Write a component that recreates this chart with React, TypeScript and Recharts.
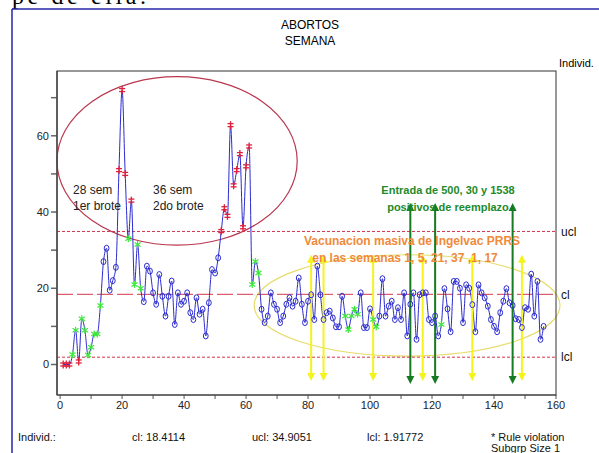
import React from 'react';
import {
  ComposedChart, Line, XAxis, YAxis, ReferenceLine, ReferenceArea,
} from 'recharts';

// --- Abortos por semana (semana 1 en adelante) ---
const abortos = [
  0, 0, 0, 2.6, 9, 0.8, 12, 9, 2.5, 4.5, 8, 8, 15.5, 27, 30.5, 19.5, 22, 25.5, 51, 72,
  50, 33, 43, 21, 31.5, 20, 16.5, 25.8, 24.5, 18.8, 15.8, 23.6, 17.9, 12.7, 17.9, 21.9, 10.5, 18.8, 15.8, 16.6,
  18.8, 13.6, 11.8, 17.5, 13.2, 14.5, 7.5, 16.2, 24.9, 24, 28, 35, 41, 39, 62.8, 47, 51, 55.2, 36, 52,
  57.2, 21, 27, 24, 14.5, 11, 12.7, 18.8, 15.8, 14.5, 11, 12.7, 15.8, 17.5, 15.3, 16.6, 22.7, 15.8, 11, 16.6,
  18.3, 11.8, 25.8, 18.3, 11.8, 13.6, 14, 12.2, 9.9, 9.9, 17.9, 12.7, 9.2, 12.7, 14.5, 13.2, 18.8, 9.7, 9.7, 14.6,
  11.8, 9.9, 12.7, 22.5, 12.7, 15.3, 16.6, 11.8, 14.9, 11.8, 18.8, 7.5, 15.8, 18.8, 6.6, 18.3, 18.8, 18.8, 11.8, 11,
  12.7, 7.5, 10.5, 19.9, 14.6, 8.6, 21.8, 21.8, 20, 11, 20.9, 20, 15.7, 8.6, 20.9, 18.8, 17.5, 15.3, 11.8, 10,
  8.6, 13.6, 16.6, 19.9, 16.2, 15.5, 12, 11.8, 9.7, 14.9, 14.5, 23.7, 12.7, 21.8, 6.6, 10,
];

// r = fuera de limites, g = violacion de regla, c = normal (10 semanas por grupo)
const estado = [
  'rrrggrgggg', 'gggcccccrr', 'rgrgggcccc', 'cccccccccc', 'cccccccccc',
  'crrrrrrrrr', 'rgggcccccc', 'cccccccccc', 'cccccccccc', 'cgggggcccc',
  'ggcccccccc', 'cccccccccc', 'ccgccccccc', 'cccccccccc', 'cccccccccc', 'cccccc',
].join('').split('');

const limites = { ucl: 34.9051, cl: 18.4114, lcl: 1.91772 };

const xTicks = [0, 10, 20, 30, 40, 50, 60, 70, 80, 90, 100, 110, 120, 130, 140, 150, 160];
const yTicks = [0, 10, 20, 30, 40, 50, 60, 70];

// flechas de eventos
const vacunacion = [81, 85, 101, 117, 133, 149];
const entradas = [113, 121, 146];

const data = abortos.map((v, i) => ({ semana: i + 1, valor: v, tipo: estado[i] || 'c' }));

const AZUL = '#2a2ad0';
const ROJO = '#e0203a';
const VERDE = '#3ee83e';

const Punto = (p: any) => {
  const { cx, cy, payload, index } = p;
  if (cx == null || cy == null) return <g key={index} />;
  if (payload.tipo === 'r') {
    return (
      <g key={index} stroke={ROJO} strokeWidth={1.3}>
        <line x1={cx} y1={cy - 4} x2={cx} y2={cy + 4} />
        <line x1={cx - 3} y1={cy - 1.5} x2={cx + 3} y2={cy - 1.5} />
        <line x1={cx - 3} y1={cy + 1.5} x2={cx + 3} y2={cy + 1.5} />
      </g>
    );
  }
  if (payload.tipo === 'g') {
    return (
      <g key={index} stroke={VERDE} strokeWidth={1.2}>
        <line x1={cx} y1={cy - 3.5} x2={cx} y2={cy + 3.5} />
        <line x1={cx - 3} y1={cy - 2} x2={cx + 3} y2={cy + 2} />
        <line x1={cx - 3} y1={cy + 2} x2={cx + 3} y2={cy - 2} />
      </g>
    );
  }
  return <ellipse key={index} cx={cx} cy={cy} rx={2.4} ry={3} fill="none" stroke={AZUL} strokeWidth={1} />;
};

const flecha = (color: string) => (p: any) => {
  const { x1, y1, x2, y2 } = p;
  const top = Math.min(y1, y2);
  const bot = Math.max(y1, y2);
  return (
    <g>
      <line x1={x1} y1={top + 6} x2={x2} y2={bot - 6} stroke={color} strokeWidth={2} />
      <polygon points={`${x1 - 4},${top + 8} ${x1 + 4},${top + 8} ${x1},${top}`} fill={color} />
      <polygon points={`${x1 - 4},${bot - 8} ${x1 + 4},${bot - 8} ${x1},${bot}`} fill={color} />
    </g>
  );
};

const elipse = (color: string) => (p: any) => (
  <ellipse
    cx={p.x + p.width / 2}
    cy={p.y + p.height / 2}
    rx={Math.abs(p.width) / 2}
    ry={Math.abs(p.height) / 2}
    fill="none"
    stroke={color}
    strokeWidth={1.2}
  />
);

const fuente = '"Liberation Sans", Arial, sans-serif';

export default function App() {
  return (
    <div style={{ position: 'absolute', left: 0, top: 0, width: 599, height: 453, background: '#fff', overflow: 'hidden' }}>
      <ComposedChart
        width={599}
        height={453}
        data={data}
        margin={{ top: 71, right: 43, bottom: 28, left: 17 }}
        style={{ fontFamily: fuente }}
      >
        <XAxis
          dataKey="semana"
          type="number"
          domain={[-1, 160]}
          ticks={xTicks}
          allowDataOverflow
          tickFormatter={(v) => (v % 20 === 0 ? String(v) : '')}
          height={30}
          tick={{ fill: '#222', fontSize: 11 }}
          tickSize={4}
          stroke="#555"
        />
        <YAxis
          type="number"
          domain={[-8, 77]}
          ticks={yTicks}
          allowDataOverflow
          tickFormatter={(v) => (v % 20 === 0 ? String(v) : '')}
          width={40}
          tick={{ fill: '#222', fontSize: 11 }}
          tickSize={6}
          stroke="#666"
          strokeWidth={1.5}
        />
        <ReferenceLine y={limites.ucl} stroke="#d2344e" strokeDasharray="3 2" label={{ value: 'ucl', position: 'right', fill: '#111', fontSize: 12 }} />
        <ReferenceLine y={limites.cl} stroke="#d23a4a" strokeDasharray="16 4" label={{ value: 'cl', position: 'right', fill: '#111', fontSize: 12 }} />
        <ReferenceLine y={limites.lcl} stroke="#d2344e" strokeDasharray="3 2" label={{ value: 'lcl', position: 'right', fill: '#111', fontSize: 12 }} />
        <Line
          dataKey="valor"
          type="monotone"
          stroke={AZUL}
          strokeWidth={1}
          dot={Punto}
          activeDot={false}
          isAnimationActive={false}
        />
        <ReferenceArea x1={-1} x2={76.5} y1={31.3} y2={75.5} ifOverflow="visible" shape={elipse('#b8384e')} />
        <ReferenceArea x1={62.6} x2={161.3} y1={2.2} y2={28.8} ifOverflow="visible" shape={elipse('#e6dc6a')} />
        {vacunacion.map((s) => (
          <ReferenceLine key={'v' + s} segment={[{ x: s, y: 28.8 }, { x: s, y: -4.3 }]} shape={flecha('#f4f41c')} ifOverflow="visible" />
        ))}
        {entradas.map((s) => (
          <ReferenceLine key={'e' + s} segment={[{ x: s, y: 42.4 }, { x: s, y: -5.1 }]} shape={flecha('#157a22')} ifOverflow="visible" />
        ))}
      </ComposedChart>
      <svg width={599} height={453} style={{ position: 'absolute', left: 0, top: 0, pointerEvents: 'none', fontFamily: fuente }}>
        <text x={12} y={4} fontFamily='"Liberation Serif", serif' fontSize={24} textLength={134} fill="#000">pe de ella.</text>
        <line x1={12} y1={9} x2={599} y2={9} stroke="#2626a8" strokeWidth={1.5} />
        <line x1={12} y1={9} x2={12} y2={453} stroke="#2626a8" strokeWidth={1.5} />
        <rect x={57} y={71} width={499} height={324} fill="none" stroke="#333" strokeWidth={1} />
        <text x={310} y={29} textAnchor="middle" fontSize={12} fill="#000">ABORTOS</text>
        <text x={310} y={45} textAnchor="middle" fontSize={12} fill="#000">SEMANA</text>
        <text x={559} y={67} fontSize={11} fill="#000">Individ.</text>
        <text x={73} y={194} fontSize={12} fill="#222">28 sem</text>
        <text x={73} y={210} fontSize={12} fill="#222">1er brote</text>
        <text x={153} y={194} fontSize={12} fill="#222">36 sem</text>
        <text x={153} y={210} fontSize={12} fill="#222">2do brote</text>
        <text x={448} y={194} textAnchor="middle" fontSize={11} fontWeight="bold" fill="#1e8a2a">Entrada de 500, 30 y 1538</text>
        <text x={448} y={211} textAnchor="middle" fontSize={11} fontWeight="bold" fill="#1e8a2a">positivos de reemplazo</text>
        <text x={412} y={245} textAnchor="middle" fontSize={12} fontWeight="bold" fill="#f08a3a">Vacunacion masiva de  Ingelvac PRRS</text>
        <text x={405} y={262} textAnchor="middle" fontSize={12} fontWeight="bold" fill="#f08a3a">en las semanas  1, 5, 21, 37 ,1, 17</text>
        <text x={18} y={441} fontSize={11} fill="#111">Individ.:</text>
        <text x={132} y={441} fontSize={11} fill="#111">cl: 18.4114</text>
        <text x={252} y={441} fontSize={11} fill="#111">ucl: 34.9051</text>
        <text x={367} y={441} fontSize={11} fill="#111">lcl: 1.91772</text>
        <text x={491} y={441} fontSize={11} fill="#111">* Rule violation</text>
        <text x={491} y={452} fontSize={11} fill="#111">Subgrp Size 1</text>
      </svg>
    </div>
  );
}
